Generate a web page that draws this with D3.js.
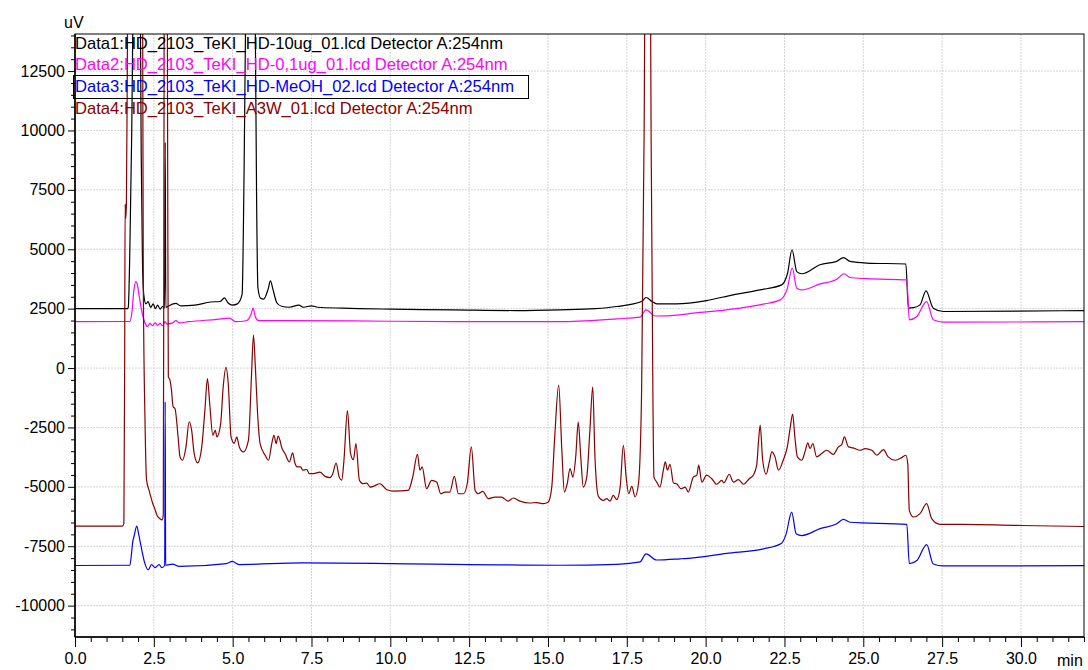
<!DOCTYPE html>
<html>
<head>
<meta charset="utf-8">
<script src="https://cdn.jsdelivr.net/npm/d3@7"></script>
<style>
  body { margin: 0; background: #fff; }
  svg { display: block; }
  text { font-family: "Liberation Sans", Arial, sans-serif; }
</style>
</head>
<body>
<div id="chart"></div>
<script>
// retention time (min), signal (uV)
var data1 = [[0,2500],[1.66,2500],[1.69,2560],[1.74,5000],[1.8,10000],[1.86,18000],[1.96,30000],[2.06,18000],[2.1,9000],[2.14,4500],[2.18,3100],
  [2.25,2700],[2.32,2800],[2.4,2550],[2.48,2700],[2.55,2500],[2.62,2650],[2.7,2480],[2.78,2600],[2.84,2520],[2.86,9500],[2.88,2550],
  [2.95,2600],[3.2,2720],[3.35,2620],[3.8,2650],[4.3,2780],[4.6,2800],[4.74,2950],[4.85,2750],[5.0,2650],[5.15,2700],[5.3,3100],
  [5.36,8000],[5.42,16000],[5.55,30000],[5.71,16000],[5.76,7000],[5.8,3400],[5.88,2950],[5.98,2900],[6.12,3300],[6.2,3670],[6.28,3300],
  [6.4,2750],[6.55,2600],[6.8,2560],[7.1,2650],[7.25,2560],[7.5,2620],[7.7,2560],[8.5,2520],[10,2480],[12,2450],[14,2420],[15.38,2450],
  [16.5,2500],[17.18,2590],[17.97,2800],[18.11,2970],[18.3,2800],[18.45,2700],[19.08,2700],[20.03,2840],[20.87,3080],[21.72,3290],
  [22.41,3500],[22.6,4000],[22.74,4980],[22.89,4060],[23.05,3970],[23.63,4350],[24.16,4490],[24.37,4650],[24.58,4490],[25.11,4420],
  [26.35,4380],[26.43,2520],[26.59,2540],[26.8,2660],[26.99,3250],[27.22,2520],[27.54,2380],[32,2420]];

var data2 = [[0,1950],[1.74,1960],[1.8,2300],[1.87,3300],[1.93,3640],[1.98,3500],[2.05,2900],[2.15,2200],[2.22,1900],[2.3,1750],
  [2.38,1880],[2.46,1780],[2.54,1900],[2.62,1800],[2.7,1880],[2.78,1780],[2.86,1950],[2.92,1850],[3.1,1900],[3.2,2000],[3.3,1900],
  [3.6,1950],[4.5,2050],[4.9,2100],[5.1,1950],[5.45,2000],[5.58,2250],[5.65,2520],[5.72,2150],[5.82,2000],[6.5,2000],[10,1970],
  [14,1950],[15.38,1950],[17.18,2070],[17.92,2140],[18.11,2450],[18.4,2190],[19.19,2240],[19.61,2310],[20.67,2450],[21.83,2690],
  [22.36,2870],[22.58,3300],[22.75,4210],[22.89,3360],[23.05,3290],[23.63,3540],[24.16,3740],[24.39,3970],[24.58,3810],[25.11,3760],
  [26.38,3710],[26.46,2030],[26.69,2160],[27.01,2800],[27.22,2030],[27.54,1930],[32,1950]];

var data3 = [[0,-8310],[1.74,-8300],[1.8,-7700],[1.83,-7330],[1.87,-7100],[1.96,-6650],[2.02,-7000],[2.08,-7400],[2.22,-8240],
  [2.32,-8490],[2.43,-8270],[2.54,-8400],[2.67,-8270],[2.75,-8400],[2.845,-8310],[2.86,-1420],[2.875,-8300],[3.1,-8250],[3.3,-8350],
  [4.8,-8230],[4.99,-8140],[5.2,-8270],[7.2,-8200],[10,-8230],[15.38,-8300],[17.18,-8260],[17.92,-8160],[18.11,-7820],[18.45,-8080],
  [19.19,-8030],[19.61,-7990],[20.67,-7800],[21.83,-7610],[22.41,-7370],[22.55,-7000],[22.73,-6060],[22.87,-6970],[23.05,-7050],
  [23.63,-6760],[24.16,-6550],[24.37,-6370],[24.58,-6490],[26.38,-6580],[26.46,-8230],[26.7,-8100],[27.01,-7430],[27.22,-8250],
  [27.54,-8330],[32,-8320]];

var data4 = [[0,-6650],[1.5,-6650],[1.55,-6550],[1.575,0],[1.59,6900],[1.61,6300],[1.63,6900],[1.665,14000],[1.75,30000],[1.95,40000],
  [2.08,25000],[2.147,14000],[2.166,3700],[2.22,-2200],[2.27,-4720],[2.35,-5150],[2.46,-5680],[2.53,-5920],[2.6,-6200],[2.69,-6340],
  [2.76,-6390],[2.8,-6200],[2.82,8000],[2.86,40000],[2.92,20000],[2.94,8000],[2.96,-370],[3.01,-500],[3.06,-930],[3.11,-1630],
  [3.17,-1700],[3.27,-2900],[3.33,-3740],[3.41,-3880],[3.52,-3320],[3.62,-2260],[3.7,-2620],[3.78,-3600],[3.89,-3990],[4.02,-3320],
  [4.12,-1770],[4.2,-440],[4.28,-1630],[4.37,-2830],[4.45,-2620],[4.5,-2900],[4.62,-2340],[4.7,-790],[4.79,30],[4.86,-650],[4.95,-2900],
  [5.05,-3170],[5.13,-2900],[5.21,-3320],[5.34,-3530],[5.5,-3040],[5.6,-230],[5.66,1390],[5.72,50],[5.79,-1900],[5.87,-3180],
  [6.03,-3670],[6.14,-3880],[6.24,-3180],[6.31,-2830],[6.38,-3180],[6.44,-2860],[6.5,-3040],[6.55,-3320],[6.66,-3600],[6.8,-3950],
  [6.9,-3570],[6.98,-4020],[7.04,-4160],[7.16,-4160],[7.22,-4300],[7.35,-4270],[7.43,-4440],[7.56,-4440],[7.77,-4380],[7.93,-4560],
  [8.09,-4610],[8.17,-4470],[8.28,-4000],[8.38,-4590],[8.46,-4720],[8.53,-3880],[8.64,-1790],[8.74,-3600],[8.83,-3860],[8.91,-3180],
  [9.02,-4720],[9.14,-4870],[9.25,-4840],[9.36,-5010],[9.46,-4980],[9.67,-4870],[9.89,-5120],[10.1,-5180],[10.57,-5150],[10.71,-4590],
  [10.86,-3630],[10.94,-4300],[11.01,-4160],[11.15,-5080],[11.31,-4730],[11.47,-4800],[11.6,-5290],[11.73,-5220],[11.89,-5220],
  [12.03,-4560],[12.16,-5290],[12.32,-5290],[12.44,-4870],[12.57,-3320],[12.69,-5150],[12.79,-5290],[12.93,-5190],[13.11,-5500],
  [13.32,-5430],[13.53,-5430],[13.74,-5600],[13.9,-5470],[14.11,-5600],[14.43,-5680],[14.64,-5660],[14.85,-5710],[15.01,-5640],
  [15.12,-5010],[15.22,-2760],[15.34,-720],[15.44,-3460],[15.52,-5220],[15.61,-4870],[15.7,-4230],[15.79,-4590],[15.88,-3740],
  [15.96,-2270],[16.04,-3740],[16.12,-5010],[16.23,-4590],[16.33,-2620],[16.42,-790],[16.49,-3740],[16.6,-5400],[16.76,-5570],
  [16.86,-5500],[16.97,-5600],[17.07,-5360],[17.18,-5540],[17.29,-5010],[17.39,-3250],[17.48,-4590],[17.56,-5290],[17.66,-4980],
  [17.76,-5420],[17.87,-4870],[17.97,-930],[18.05,10000],[18.16,40000],[18.27,10000],[18.33,-1500],[18.36,-4590],[18.45,-4800],
  [18.55,-5010],[18.66,-4300],[18.72,-3950],[18.79,-4300],[18.87,-4050],[18.98,-4840],[19.08,-4870],[19.22,-5080],[19.35,-5010],
  [19.45,-5220],[19.61,-4590],[19.72,-4510],[19.78,-4090],[19.88,-4800],[20.03,-4510],[20.19,-4650],[20.35,-4890],[20.51,-4730],
  [20.58,-4830],[20.75,-4470],[20.88,-4800],[21.04,-4700],[21.2,-4890],[21.39,-4650],[21.51,-4510],[21.62,-4090],[21.68,-3040],
  [21.73,-2400],[21.81,-3880],[21.92,-4470],[22.02,-3950],[22.1,-3530],[22.2,-3740],[22.31,-4300],[22.46,-3880],[22.59,-3320],
  [22.68,-2540],[22.76,-1940],[22.83,-2900],[22.91,-3740],[23.05,-3880],[23.15,-3530],[23.24,-3150],[23.31,-3390],[23.4,-3180],
  [23.52,-3740],[23.68,-3600],[23.84,-3460],[24.05,-3630],[24.21,-3320],[24.32,-3210],[24.4,-2900],[24.53,-3320],[24.68,-3360],
  [24.9,-3460],[25.06,-3390],[25.27,-3460],[25.43,-3670],[25.64,-3430],[25.79,-3740],[26.01,-3880],[26.22,-3770],[26.35,-3670],
  [26.41,-4020],[26.46,-5990],[26.59,-6270],[26.8,-6130],[27.01,-5710],[27.17,-6340],[27.43,-6580],[28.17,-6580],[29.76,-6620],[32,-6670]];

var seriesNames = [
  "Data1:HD_2103_TeKI_HD-10ug_01.lcd Detector A:254nm",
  "Data2:HD_2103_TeKI_HD-0,1ug_01.lcd Detector A:254nm",
  "Data3:HD_2103_TeKI_HD-MeOH_02.lcd Detector A:254nm",
  "Data4:HD_2103_TeKI_A3W_01.lcd Detector A:254nm"
];
var seriesColors = ["#000000", "#ff00ff", "#0000ff", "#8b0000"];

var xTicks = [0, 2.5, 5, 7.5, 10, 12.5, 15, 17.5, 20, 22.5, 25, 27.5, 30];
var yTicks = [-10000, -7500, -5000, -2500, 0, 2500, 5000, 7500, 10000, 12500];

var W = 1088, H = 670;
var margin = { top: 34, right: 4, bottom: 33, left: 75 };
var width = W - margin.left - margin.right,
  height = H - margin.top - margin.bottom;

var svg = d3.select("#chart")
  .append("svg")
  .attr("width", W)
  .attr("height", H);

var x = d3.scaleLinear().domain([0, 32]).range([0, width]);
var y = d3.scaleLinear().domain([-11320, 14060]).range([height, 0]);

var g = svg.append("g")
  .attr("transform", "translate(" + margin.left + "," + margin.top + ")");

// grid
g.append("g").selectAll("line").data(xTicks.slice(1)).join("line")
  .attr("x1", d => x(d)).attr("x2", d => x(d))
  .attr("y1", 0).attr("y2", height)
  .attr("stroke", "#d4d4d4").attr("stroke-dasharray", "2,1");
g.append("g").selectAll("line").data(yTicks).join("line")
  .attr("x1", 0).attr("x2", width)
  .attr("y1", d => y(d)).attr("y2", d => y(d))
  .attr("stroke", "#d4d4d4").attr("stroke-dasharray", "2,1");

// traces
svg.append("defs").append("clipPath").attr("id", "plotclip")
  .append("rect").attr("width", width).attr("height", height);

var line = d3.line()
  .x(function (d) { return x(d[0]) })
  .y(function (d) { return y(d[1]) })
  .curve(d3.curveMonotoneX);

var traces = g.append("g").attr("clip-path", "url(#plotclip)");
[data1, data2, data3, data4].forEach(function (s, i) {
  traces.append("path")
    .datum(s)
    .attr("fill", "none")
    .attr("stroke", seriesColors[i])
    .attr("stroke-width", 1.2)
    .attr("stroke-linejoin", "round")
    .attr("d", line);
});

// axes
var minorX = d3.range(0.5, 32.01, 0.5).filter(d => Math.abs(d / 2.5 - Math.round(d / 2.5)) > 1e-6);
var minorY = d3.range(-11000, 14001, 500).filter(d => d % 2500 !== 0);

function styleAxis(a) {
  a.attr("font-size", 16).attr("font-family", '"Liberation Sans", Arial, sans-serif');
  a.selectAll("line").attr("stroke", "#000");
  a.select(".domain").remove();
  a.selectAll("text").attr("fill", "#000");
}

g.append("g").attr("transform", "translate(0," + height + ")")
  .call(d3.axisBottom(x).tickValues(minorX).tickSize(5).tickFormat(""))
  .call(styleAxis);
g.append("g").attr("transform", "translate(0," + height + ")")
  .call(d3.axisBottom(x).tickValues(xTicks).tickSize(10).tickPadding(6).tickFormat(d3.format(".1f")))
  .call(styleAxis);

g.append("g")
  .call(d3.axisLeft(y).tickValues(minorY).tickSize(4).tickFormat(""))
  .call(styleAxis);
g.append("g")
  .call(d3.axisLeft(y).tickValues(yTicks).tickSize(7).tickPadding(3).tickFormat(d => String(d)))
  .call(styleAxis);

// frame
g.append("rect")
  .attr("x", 0).attr("y", 0)
  .attr("width", width).attr("height", height)
  .attr("fill", "none").attr("stroke", "#000").attr("stroke-width", 1);
g.append("line").attr("x1", 0).attr("x2", 0).attr("y1", 0).attr("y2", height)
  .attr("stroke", "#000").attr("stroke-width", 1.5);
g.append("line").attr("x1", 0).attr("x2", width).attr("y1", height).attr("y2", height)
  .attr("stroke", "#000").attr("stroke-width", 1.5);

// axis units
svg.append("text").attr("x", 64).attr("y", 28).attr("font-size", 16).text("uV");
svg.append("text").attr("x", 1057).attr("y", 666).attr("font-size", 16).text("min");

// legend
var legendBase = [49, 70, 92, 114];
svg.append("rect")
  .attr("x", 73.5).attr("y", 75.5).attr("width", 455).attr("height", 23)
  .attr("fill", "none").attr("stroke", "#000").attr("stroke-width", 1);
seriesNames.forEach(function (name, i) {
  svg.append("text")
    .attr("x", 75).attr("y", legendBase[i])
    .attr("font-size", 16.6)
    .attr("fill", seriesColors[i])
    .text(name);
});
</script>
</body>
</html>
